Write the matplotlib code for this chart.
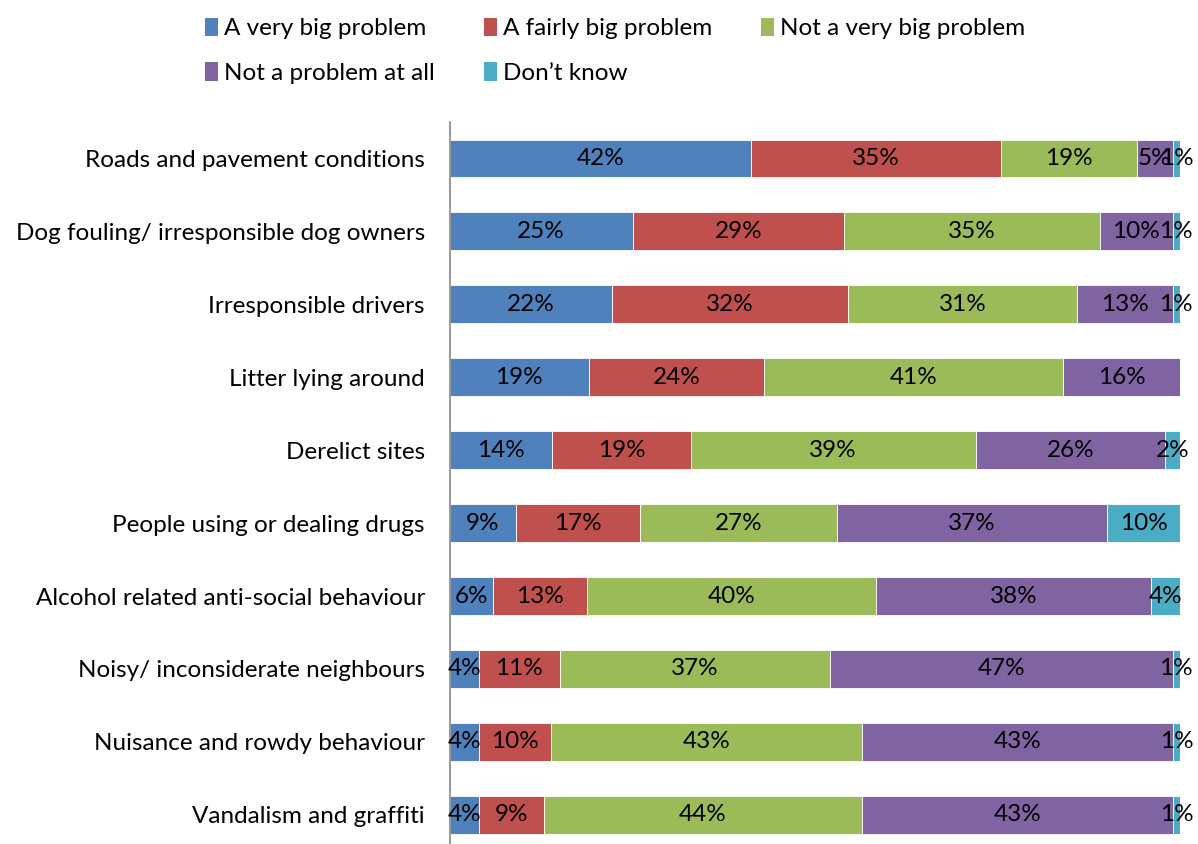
import numpy as np
import matplotlib.pyplot as plt
from matplotlib.patches import Patch

plt.rcParams['font.family'] = ['Lato', 'DejaVu Sans']

categories = ["Roads and pavement conditions",
              "Dog fouling/ irresponsible dog owners",
              "Irresponsible drivers",
              "Litter lying around",
              "Derelict sites",
              "People using or dealing drugs",
              "Alcohol related anti-social behaviour",
              "Noisy/ inconsiderate neighbours",
              "Nuisance and rowdy behaviour",
              "Vandalism and graffiti"]

series = ["A very big problem", "A fairly big problem", "Not a very big problem",
          "Not a problem at all", "Don\u2019t know"]

very_big = [42, 25, 22, 19, 14, 9, 6, 4, 4, 4]
fairly_big = [35, 29, 32, 24, 19, 17, 13, 11, 10, 9]
not_very_big = [19, 35, 31, 41, 39, 27, 40, 37, 43, 44]
not_at_all = [5, 10, 13, 16, 26, 37, 38, 47, 43, 43]
dont_know = [1, 1, 1, 0, 2, 10, 4, 1, 1, 1]

colors = ["#4F81BD", "#C0504D", "#9BBB59", "#8064A2", "#4BACC6"]

data = np.array([very_big, fairly_big, not_very_big, not_at_all, dont_know], dtype=float)
totals = data.sum(axis=0)
shares = data / totals * 100

fig = plt.figure(figsize=(11.98, 8.44), dpi=100)
ax = fig.add_axes([450 / 1198, 0, (1180 - 450) / 1198, (844 - 122) / 844])

y = np.arange(len(categories))
left = np.zeros(len(categories))
for k in range(len(series)):
    ax.barh(y, shares[k], left=left, height=0.52, color=colors[k],
            edgecolor='white', linewidth=0.6, label=series[k])
    for i in range(len(categories)):
        if data[k][i] > 0:
            ax.text(left[i] + shares[k][i] / 2, y[i], f"{int(data[k][i])}%",
                    ha='center', va='center', fontsize=17.5, color='black')
    left += shares[k]

ax.set_xlim(0, 100)
ax.set_ylim(9.4, -0.5)
ax.set_yticks(y)
ax.set_yticklabels(categories, fontsize=17.5)
ax.tick_params(axis='y', length=0, pad=18)
ax.set_xticks([])
for s in ['top', 'right', 'bottom']:
    ax.spines[s].set_visible(False)
ax.spines['left'].set_color('#888888')
ax.spines['left'].set_linewidth(1.2)

handles = [Patch(facecolor=c) for c in colors]
order = [0, 3, 1, 4, 2]
fig.legend([handles[i] for i in order], [series[i] for i in order],
           ncol=3, loc='upper left', bbox_to_anchor=(183 / 1198, 1.005),
           frameon=False, fontsize=17.5, handlelength=0.55, handleheight=0.8,
           handletextpad=0.25, columnspacing=2.0, labelspacing=0.95)

fig.savefig("out.png", dpi=100)
